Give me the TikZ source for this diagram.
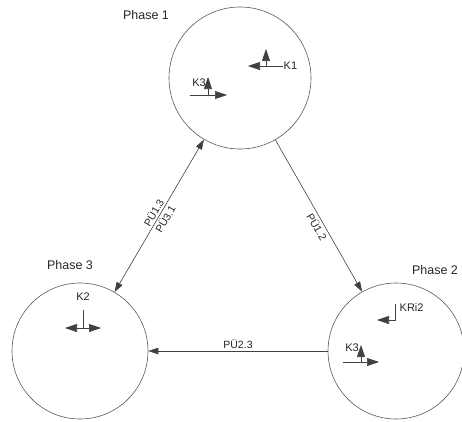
\documentclass[tikz,border=0pt]{standalone}
\usepackage{fontspec}
\setmainfont{Liberation Sans}
\usetikzlibrary{arrows.meta}
\tikzset{
  phase/.style={circle, draw=black!65, line width=0.6pt, inner sep=0pt},
  conn/.style={draw=black!75, line width=0.6pt},
  ctip/.style={-{Triangle[length=10pt,width=6.5pt]}},
  ctipboth/.style={{Triangle[length=10pt,width=6.5pt]}-{Triangle[length=10pt,width=6.5pt]}},
  sym/.style={draw=black!75, line width=0.6pt},
  stip/.style={-{Triangle[length=12pt,width=8pt]}},
  stipboth/.style={{Triangle[length=12pt,width=8pt]}-{Triangle[length=12pt,width=8pt]}},
  ptitle/.style={font=\fontsize{12.5}{14}\selectfont, text=black!85},
  klabel/.style={font=\fontsize{11}{12}\selectfont, text=black!85, inner sep=0.5pt},
  clabel/.style={font=\fontsize{10.5}{12}\selectfont, text=black!85, inner sep=2pt}
}
\begin{document}
\begin{tikzpicture}[x=1pt,y=-1pt]
\clip (0,0) rectangle (462,421);
\fill[white] (0,0) rectangle (462,421);
% phases
\node[phase, minimum size=142pt] (p1) at (240,78) {};
\node[phase, minimum size=136pt] (p2) at (396,351) {};
\node[phase, minimum size=136pt] (p3) at (80,351) {};
\node[ptitle] (t1) at (146,15) {Phase 1};
\node[ptitle] (t2) at (435,270) {Phase 2};
\node[ptitle] (t3) at (70,265) {Phase 3};
% connectors
\draw[conn, ctip] (p1) -- node[clabel, pos=0.55, sloped, below] (l12) {PÜ1.2} (p2);
\draw[conn, ctip] (p2) -- node[clabel, pos=0.5, above] (l23) {PÜ2.3} (p3);
\draw[conn, ctipboth] (p3) -- node[clabel, pos=0.5, sloped, above] (l13) {PÜ1.3}
                               node[clabel, pos=0.5, sloped, below] (l31) {PÜ3.1} (p1);
% Phase 1 symbols
\coordinate (k1h0) at (283,66); \coordinate (k1h1) at (248,66);
\coordinate (k1v0) at (266,66); \coordinate (k1v1) at (266,49);
\draw[sym, stip] (k1h0) -- (k1h1);
\draw[sym, stip] (k1v0) -- (k1v1);
\node[klabel, anchor=west] (k1) at (k1h0) {K1};
\coordinate (a3h0) at (190,95); \coordinate (a3h1) at (227,95);
\coordinate (a3v0) at (208,95); \coordinate (a3v1) at (208,77);
\draw[sym, stip] (a3h0) -- (a3h1);
\draw[sym, stip] (a3v0) -- (a3v1);
\node[klabel, anchor=east] (k3a) at (206.5,83) {K3};
% Phase 2 symbols
\coordinate (b3h0) at (343,362); \coordinate (b3h1) at (379,362);
\coordinate (b3v0) at (361,362); \coordinate (b3v1) at (361,345);
\draw[sym, stip] (b3h0) -- (b3h1);
\draw[sym, stip] (b3v0) -- (b3v1);
\node[klabel, anchor=east] (k3b) at (359.5,348) {K3};
\coordinate (kr0) at (395,304); \coordinate (kr1) at (395,320); \coordinate (kr2) at (377,320);
\draw[sym, stip] (kr0) -- (kr1) -- (kr2);
\node[klabel, anchor=west] (kri) at (399,308) {KRi2};
% Phase 3 symbols
\coordinate (k2v0) at (83,310); \coordinate (k2v1) at (83,328);
\coordinate (k2h0) at (65,328); \coordinate (k2h1) at (101,328);
\draw[sym] (k2v0) -- (k2v1);
\draw[sym, stipboth] (k2h0) -- (k2h1);
\node[klabel] (k2) at (83,297) {K2};
\end{tikzpicture}
\end{document}
